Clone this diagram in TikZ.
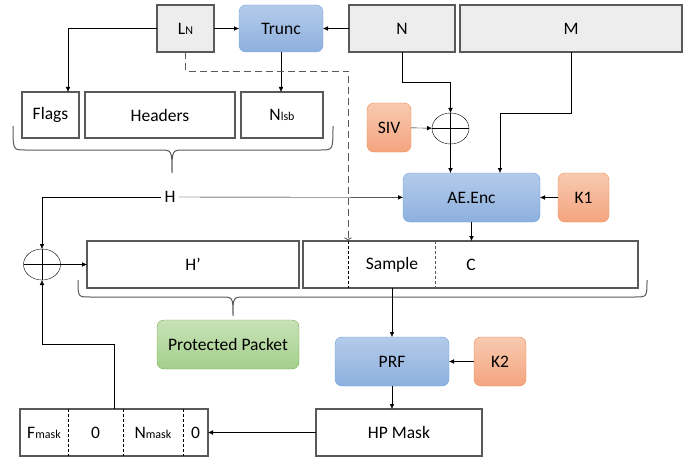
\documentclass[tikz,border=0pt]{standalone}
\usepackage{fontspec}
\setmainfont{Carlito}
\usepackage{tikz}
\usetikzlibrary{shapes.geometric,arrows.meta,positioning,calc}

\definecolor{boxgray}{HTML}{EDEDED}
\definecolor{edgegray}{HTML}{595959}
\definecolor{bluetop}{HTML}{B4CBEA}
\definecolor{bluebot}{HTML}{8DB0DE}
\definecolor{blueedge}{HTML}{6FA0DC}
\definecolor{orgtop}{HTML}{F8CAB0}
\definecolor{orgbot}{HTML}{F4A47F}
\definecolor{orgedge}{HTML}{F08A4B}
\definecolor{grntop}{HTML}{C8E2B8}
\definecolor{grnbot}{HTML}{A3CF8A}
\definecolor{grnedge}{HTML}{70AD47}

\newcommand{\lowtxt}[1]{{\fontsize{12}{12}\selectfont #1}}

\begin{document}
\begin{tikzpicture}[x=1pt,y=-1pt,font=\fontsize{17.5}{20}\selectfont,
  field/.style={draw=edgegray,line width=1.1pt,inner sep=0pt,outer sep=0pt},
  grayfield/.style={field,fill=boxgray},
  func/.style={draw=blueedge,rounded corners=7pt,top color=bluetop,bottom color=bluebot,inner sep=0pt,outer sep=0pt},
  keybox/.style={draw=orgedge,rounded corners=7pt,top color=orgtop,bottom color=orgbot,inner sep=0pt,outer sep=0pt},
  pktbox/.style={draw=grnedge,rounded corners=7pt,top color=grntop,bottom color=grnbot,inner sep=0pt,outer sep=0pt},
  xorop/.style={draw,ellipse,minimum width=37pt,minimum height=31pt,inner sep=0pt,outer sep=0pt},
  arr/.style={-{Latex[length=5pt,width=4.5pt]}},
  divider/.style={dashed,dash pattern=on 3pt off 2pt,line width=0.7pt}]
\useasboundingbox (0,0) rectangle (697,460);
% Top row
\node[grayfield,minimum width=57pt,minimum height=47pt] (LN) at (185.5,28.5) {L\lowtxt{N}};
\node[func,minimum width=84pt,minimum height=47pt] (Trunc) at (281,28.5) {Trunc};
\node[grayfield,minimum width=106pt,minimum height=47pt] (N) at (402,28.5) {N};
\node[grayfield,minimum width=222pt,minimum height=47pt] (M) at (571,28.5) {M};
% Header fields
\node[field,minimum width=57pt,minimum height=46pt] (Flags) at (50.5,115) {Flags};
\node[field,minimum width=150pt,minimum height=46pt] (Headers) at (160,115) {Headers};
\node[field,minimum width=82pt,minimum height=46pt] (Nlsb) at (282,115) {N\lowtxt{lsb}};
% Brace over header fields
\draw[edgegray,line width=1pt] (13,126) .. controls (13,150) .. (25,150) -- (160,150)
  .. controls (172,150) .. (172,173) .. controls (172,150) .. (184,150) -- (321,150)
  .. controls (333,150) .. (333,126);
\node (H) at (170,197) {H};
% Encryption
\node[keybox,minimum width=44pt,minimum height=49pt] (SIV) at (389,127.5) {SIV};
\node[xorop] (xorN) at (450.5,128.5) {};
\node[func,minimum width=137pt,minimum height=49pt] (AEEnc) at (471.5,197.5) {AE.Enc};
\node[keybox,minimum width=51pt,minimum height=49pt] (K1) at (583.5,197.5) {K1};
% Packet
\node[xorop] (xorH) at (42,264.5) {};
\node[field,minimum width=212pt,minimum height=47pt] (Hp) at (193,264.5) {H’};
\node[field,minimum width=335pt,minimum height=47pt] (pkt) at (470.5,264.5) {};
\node (Sample) at (392,265) {Sample};
\node (C) at (471,265) {C};
\draw[divider] (348,241) -- (348,288);
\draw[divider,edgegray] (435,241) -- (435,288);
\draw[edgegray,line width=1pt] (78,280) .. controls (78,297) .. (90,297) -- (221,297)
  .. controls (233,297) .. (233,316) .. controls (233,297) .. (245,297) -- (635,297)
  .. controls (647,297) .. (647,280);
\node[pktbox,minimum width=142pt,minimum height=49pt] (Prot) at (228,344.5) {Protected Packet};
% Header protection
\node[func,minimum width=114pt,minimum height=49pt] (PRF) at (392,361.5) {PRF};
\node[keybox,minimum width=52pt,minimum height=49pt] (K2) at (500,361.5) {K2};
\node[field,minimum width=166pt,minimum height=47pt] (HPMask) at (399,432.5) {HP Mask};
\node[field,minimum width=188pt,minimum height=47pt] (mask) at (114,432.5) {};
\draw[divider] (68,409) -- (68,456);
\draw[divider] (123,409) -- (123,456);
\draw[divider] (183,409) -- (183,456);
\node (Fm) at (44,433) {F\lowtxt{mask}};
\node (zeroA) at (95.5,433) {0};
\node (Nm) at (153,433) {N\lowtxt{mask}};
\node (zeroB) at (195.5,433) {0};
% Connectors
\coordinate (dsh) at (348,71);
\coordinate (smp) at (348,241);
\draw[arr] (LN.west) -| ([xshift=17.5pt]Flags.north);
\draw[arr] (LN) -- (Trunc);
\draw[arr] (N) -- (Trunc);
\draw[arr] (Trunc.south) -- (Trunc.south |- Nlsb.north);
\draw[->,edgegray,line width=0.9pt,dash pattern=on 7pt off 4pt] (LN.south) |- (dsh) -- (smp);
\draw[arr] (N.south) -- ++(0,30) -| (xorN.north);
\draw[arr] (SIV) -- (xorN);
\draw (xorN.north) -- (xorN.south) (xorN.west) -- (xorN.east);
\draw[arr] (xorN.south) -- (xorN.south |- AEEnc.north);
\draw[arr] (M.south) -- ++(0,61) -| ([xshift=28.5pt]AEEnc.north);
\draw[arr] (K1) -- (AEEnc);
\draw[arr] (H) -- (AEEnc);
\draw[arr] (H) -| (xorH.north);
\draw (xorH.north) -- (xorH.south) (xorH.west) -- (xorH.east);
\draw[arr] (xorH) -- (Hp);
\draw[arr] (AEEnc.south) -- (AEEnc.south |- pkt.north);
\draw[arr] (PRF.north |- pkt.south) -- (PRF.north);
\draw[arr] (K2) -- (PRF);
\draw[arr] (PRF.south) -- (PRF.south |- HPMask.north);
\draw[arr] (HPMask) -- (mask);
\draw[arr] (mask.north) -- ++(0,-65) -| (xorH.south);
\end{tikzpicture}
\end{document}
